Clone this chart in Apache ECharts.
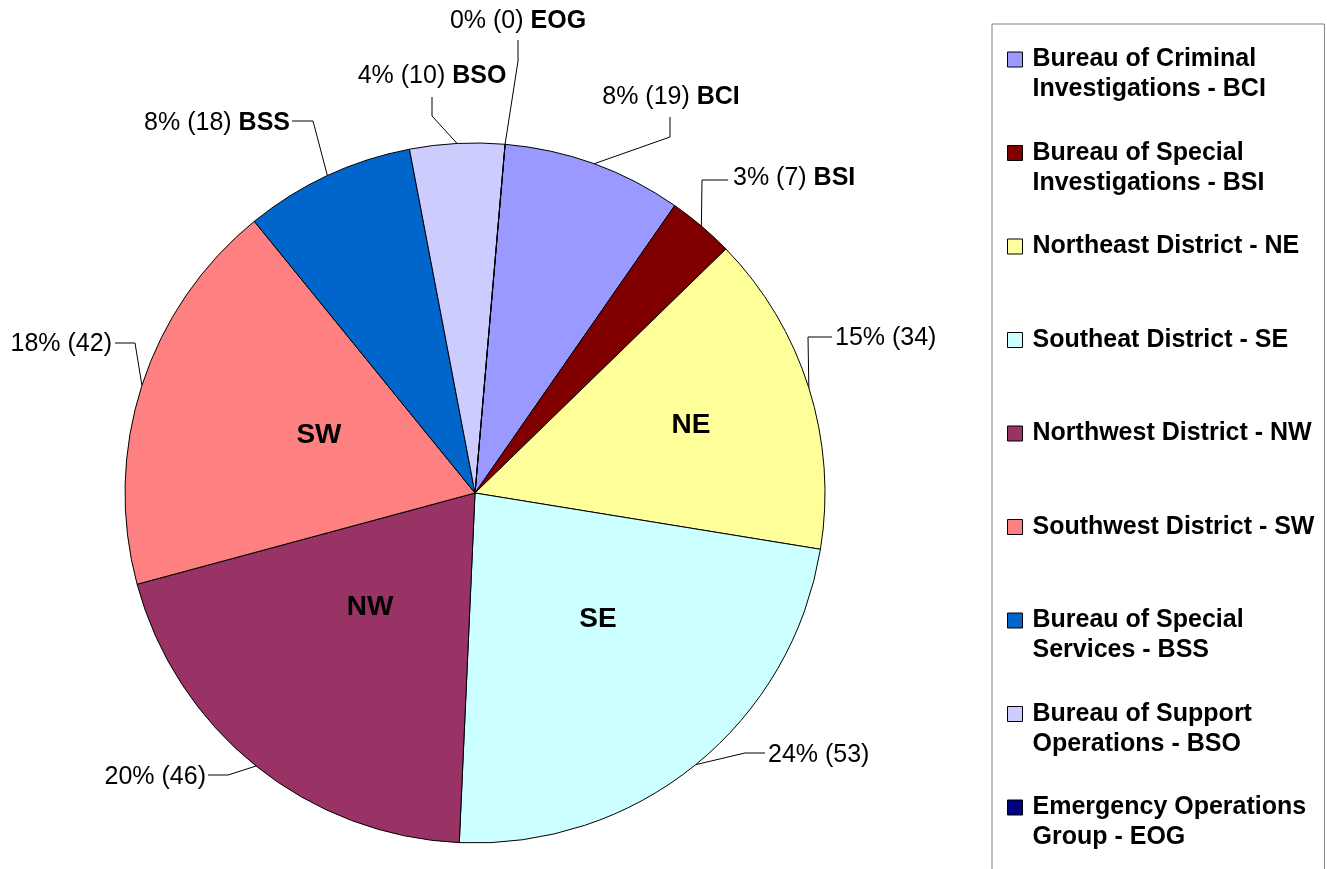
<!DOCTYPE html>
<html>
<head>
<meta charset="utf-8">
<script src="https://cdn.jsdelivr.net/npm/echarts@6/dist/echarts.min.js"></script>
<style>
html,body{margin:0;padding:0;background:#ffffff;}
#chart{width:1327px;height:869px;}
</style>
</head>
<body>
<div id="chart"></div>
<script>
// ---- data ----
const codes = ['BCI', 'BSI', 'NE', 'SE', 'NW', 'SW', 'BSS', 'BSO', 'EOG'];
const counts = [19, 7, 34, 53, 46, 42, 18, 10, 0];
const percentLabels = ['8%', '3%', '15%', '24%', '20%', '18%', '8%', '4%', '0%'];
const legendNames = [
  'Bureau of Criminal\nInvestigations - BCI',
  'Bureau of Special\nInvestigations - BSI',
  'Northeast District - NE',
  'Southeat District - SE',
  'Northwest District - NW',
  'Southwest District - SW',
  'Bureau of Special\nServices - BSS',
  'Bureau of Support\nOperations - BSO',
  'Emergency Operations\nGroup - EOG'
];
const codeShownInside = [false, false, true, true, true, true, false, false, false];

// ---- styles / layout (decoration only) ----
const colors = ['#9999FF', '#800000', '#FFFF99', '#CCFFFF', '#993366', '#FF8080', '#0066CC', '#CCCCFF', '#000080'];
const FONT = '"Liberation Sans", Arial, sans-serif';
const PIE_CENTER = [475, 493];
const PIE_RADIUS = 350;
const START_ANGLE = 85.07;
// callout label anchor [x, y, align], elbow and end of leader line
const calloutText = [[671, 97, 'center'], [733, 178, 'left'], [835, 338, 'left'], [768, 755, 'left'],
  [206, 777, 'right'], [112, 344, 'right'], [290, 123, 'right'], [432, 76, 'center'], [518, 21, 'center']];
const calloutElbow = [[670, 137], [702, 180], [808, 337], [745, 753], [228, 775], [135, 343], [313, 121], [432, 116], [518, 61]];
const calloutEnd = [[670, 117], [728, 180], [832, 337], [765, 753], [208, 775], [115, 343], [292, 121], [432, 97], [518, 40]];
const innerText = [null, null, [691, 425], [598, 619], [370, 607], [319, 435], null, null, null];

const chart = echarts.init(document.getElementById('chart'), null, {renderer: 'canvas'});

const option = {
  backgroundColor: '#ffffff',
  animation: false,
  legend: {
    orient: 'vertical',
    left: 992,
    top: 24,
    height: 1000,
    padding: [20.5, 10, 30, 15],
    itemGap: 33.5,
    itemWidth: 15,
    itemHeight: 45,
    icon: 'path://M0,0L15,0L15,15L0,15Z M0,45L0,45',
    borderColor: '#808080',
    borderWidth: 1,
    backgroundColor: '#ffffff',
    selectedMode: false,
    data: codes.slice(),
    formatter: function (name) {
      const t = legendNames[codes.indexOf(name)];
      return t.indexOf('\n') >= 0 ? t : t + '\n ';
    },
    itemStyle: {borderColor: '#000000', borderWidth: 1},
    textStyle: {
      fontFamily: FONT, fontSize: 25, fontWeight: 'bold', color: '#000000',
      lineHeight: 30, padding: [0, 0, 0, 5]
    }
  },
  series: [
    {
      name: 'main',
      type: 'pie',
      center: PIE_CENTER,
      radius: PIE_RADIUS,
      startAngle: START_ANGLE,
      clockwise: true,
      avoidLabelOverlap: false,
      animation: false,
      data: codes.map(function (c, i) {
        return {name: c, value: counts[i], itemStyle: {color: colors[i]}};
      }),
      itemStyle: {borderColor: '#000000', borderWidth: 1},
      emphasis: {disabled: true},
      label: {
        show: true,
        position: 'outside',
        overflow: 'none',
        edgeDistance: 0,
        fontFamily: FONT,
        fontSize: 25,
        color: '#000000',
        formatter: function (p) {
          const i = p.dataIndex;
          const head = '{n|' + percentLabels[i] + ' (' + counts[i] + ')}';
          return codeShownInside[i] ? head : head + '{n| }{b|' + codes[i] + '}';
        },
        rich: {
          n: {fontFamily: FONT, fontSize: 25, color: '#000000'},
          b: {fontFamily: FONT, fontSize: 25, fontWeight: 'bold', color: '#000000'}
        }
      },
      labelLine: {show: true, length: 20, length2: 20, lineStyle: {color: '#000000', width: 1}},
      labelLayout: function (p) {
        const i = p.dataIndex;
        const t = calloutText[i];
        const res = {x: t[0], y: t[1], align: t[2], verticalAlign: 'middle'};
        if (p.labelLinePoints && p.labelLinePoints.length) {
          const rim = p.labelLinePoints[0];
          res.labelLinePoints = [[rim[0], rim[1]], calloutElbow[i].slice(), calloutEnd[i].slice()];
        }
        return res;
      }
    },
    {
      name: 'codes',
      type: 'pie',
      center: PIE_CENTER,
      radius: PIE_RADIUS,
      startAngle: START_ANGLE,
      clockwise: true,
      silent: true,
      legendHoverLink: false,
      avoidLabelOverlap: false,
      animation: false,
      data: codes.map(function (c, i) { return {name: c, value: counts[i]}; }),
      itemStyle: {color: 'rgba(0,0,0,0)', borderWidth: 0},
      emphasis: {disabled: true},
      label: {
        show: true,
        position: 'inside',
        fontFamily: FONT,
        fontSize: 28,
        fontWeight: 'bold',
        color: '#000000',
        formatter: function (p) { return codeShownInside[p.dataIndex] ? p.name : ''; }
      },
      labelLine: {show: false},
      labelLayout: function (p) {
        const t = innerText[p.dataIndex];
        return t ? {x: t[0], y: t[1], align: 'center', verticalAlign: 'middle'} : {};
      }
    }
  ]
};
chart.setOption(option);
</script>
</body>
</html>
